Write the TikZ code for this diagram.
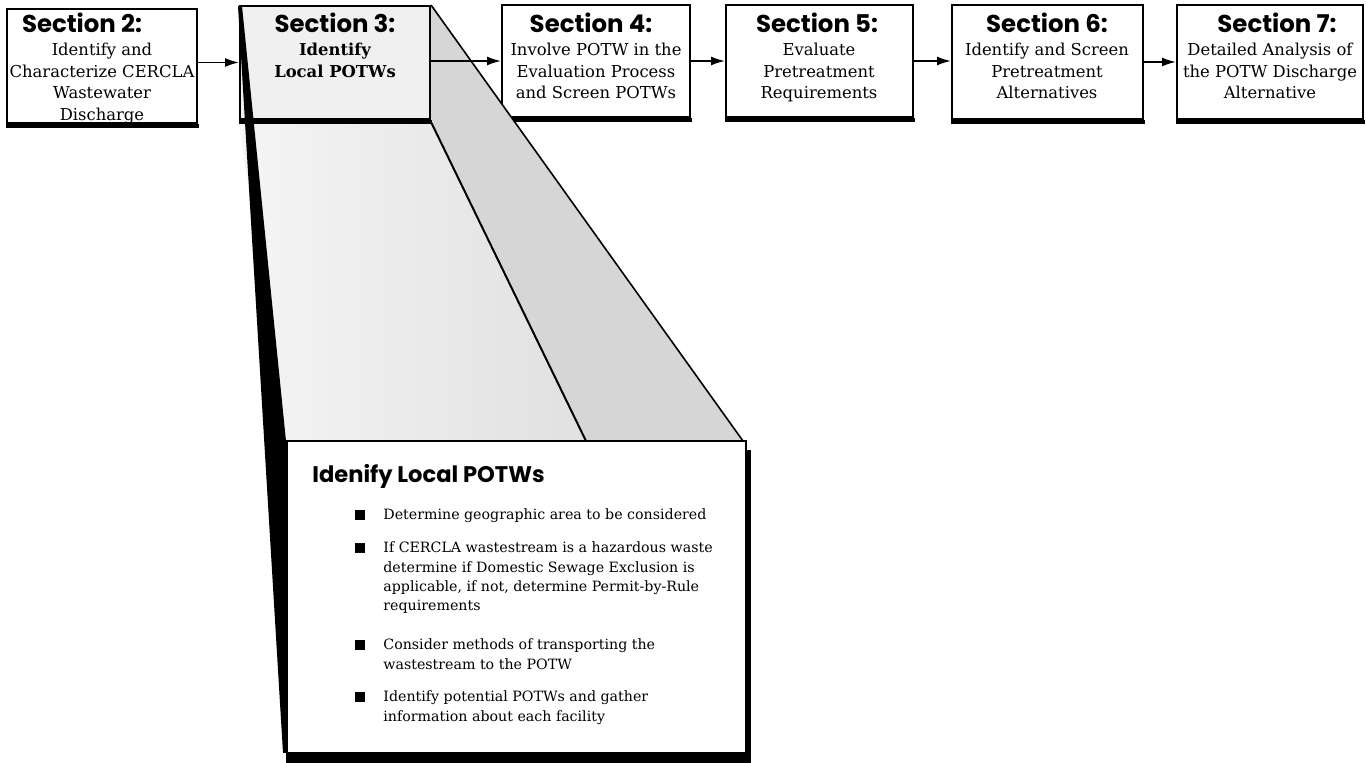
\documentclass[tikz,border=0pt]{standalone}
\usepackage{fontspec}
\setmainfont{DejaVu Serif}
\newfontfamily\headfont{Poppins}
\usetikzlibrary{arrows.meta}

\tikzset{
  stagebox/.style={draw, line width=1pt, fill=white, inner sep=0pt},
  stagetitle/.style={font=\headfont\bfseries\fontsize{12.2}{14}\selectfont, inner sep=0pt, anchor=base},
  stagetext/.style={font=\fontsize{8.2}{10.75}\selectfont, inner sep=0pt, anchor=base},
  flow/.style={-{Latex[length=7pt,width=4.5pt]}, line width=0.8pt},
  detailhead/.style={font=\headfont\bfseries\fontsize{11.3}{13}\selectfont, inner sep=0pt, anchor=base west},
  detailtext/.style={font=\fontsize{7.1}{9.6}\selectfont, inner sep=0pt, anchor=base west},
  bulletsq/.style={fill=black, minimum size=5pt, inner sep=0pt},
  edge/.style={line width=0.8pt}
}

\newcommand{\lines}[2]{\parbox[t]{#1}{\centering #2}}
\newcommand{\itemlines}[1]{\parbox[t]{200pt}{\raggedright #1}}

\begin{document}
\begin{tikzpicture}[x=0.5pt,y=-0.5pt]
\useasboundingbox (0,0) rectangle (1366,763);

% ---- stage boxes along the top ----
\node[stagebox, minimum width=95pt,   minimum height=57pt]   (s2) at (102,66)    {};
\node[stagebox, fill=gray!12, minimum width=95pt, minimum height=56.5pt] (s3) at (335,62.5) {};
\node[stagebox, minimum width=94pt,   minimum height=56pt]   (s4) at (596,61)    {};
\node[stagebox, minimum width=93.5pt, minimum height=56pt]   (s5) at (819.5,61)  {};
\node[stagebox, minimum width=95.5pt, minimum height=57pt]   (s6) at (1047.5,62) {};
\node[stagebox, minimum width=93pt,   minimum height=57pt]   (s7) at (1270,62)   {};

% thick lower edges of the boxes
\foreach \n in {s2,s4,s5,s6,s7}
  \fill (\n.south west) rectangle ([xshift=0.5pt,yshift=-2pt]\n.south east);

% ---- expanded view of Section 3 ----
% right side face
\fill[gray!32] (s3.north east) -- (743,441) -- (586,441) -- (s3.south east) -- cycle;
% front face under the box
\shade[left color=gray!8, middle color=gray!34, right color=gray!24]
  ([yshift=-2pt]s3.south west) -- ([yshift=-2pt]s3.south east) -- (586,441) -- (286,441) -- cycle;
% redraw the box on top of the faces
\node[stagebox, fill=gray!12, minimum width=95pt, minimum height=56.5pt] at (s3) {};
\fill (s3.south west) rectangle ([xshift=0.5pt,yshift=-2pt]s3.south east);
% edges of the projection
\draw[edge] (s3.north east) -- (743,441);
\draw[line width=1pt] ([yshift=-1pt]s3.south east) -- (586,441);

% detail box
\node[stagebox, line width=1pt, minimum width=229.5pt, minimum height=156pt] (detail) at (516.5,597) {};
\fill (detail.south west) rectangle ([xshift=2pt,yshift=-6pt]detail.south east);
\fill ([yshift=-5pt]detail.north east) rectangle ([xshift=2pt]detail.south east);

% dark left side of the projection
\fill (238,6) -- (242,6) -- (286,441) -- (288,753) -- (283,753) -- cycle;

% ---- connectors ----
\draw[flow] (s3.west -| s2.east) -- (s3.west);
\draw[flow] (s4.west -| s3.east) -- (s4.west);
\draw[flow] (s4.east) -- (s5.west);
\draw[flow] (s5.east) -- (s5.east -| s6.west);
\draw[flow] (s6.east) -- (s7.west);

% ---- stage texts ----
\node[stagetitle] (s2t) at (82,33)   {Section 2:};
\node[stagetitle] (s3t) at (335,33)  {Section 3:};
\node[stagetitle] (s4t) at (591,33)  {Section 4:};
\node[stagetitle] (s5t) at (817,33)  {Section 5:};
\node[stagetitle] (s6t) at (1047,33) {Section 6:};
\node[stagetitle] (s7t) at (1277,33) {Section 7:};

\node[stagetext] (s2b) at (102,56)  {\lines{120pt}{Identify and\\Characterize CERCLA\\Wastewater\\Discharge}};
\node[stagetext] (s3b) at (335,56)  {\lines{120pt}{\bfseries Identify\\Local POTWs}};
\node[stagetext] (s4b) at (596,56)  {\lines{120pt}{Involve POTW in the\\Evaluation Process\\and Screen POTWs}};
\node[stagetext] (s5b) at (819,56)  {\lines{120pt}{Evaluate\\Pretreatment\\Requirements}};
\node[stagetext] (s6b) at (1047,56) {\lines{120pt}{Identify and Screen\\Pretreatment\\Alternatives}};
\node[stagetext] (s7b) at (1270,56) {\lines{120pt}{Detailed Analysis of\\the POTW Discharge\\Alternative}};

% ---- detail box contents ----
\node[detailhead] (dh) at (312,483) {Idenify Local POTWs};

\node[bulletsq] (b1) at (360,515) {};
\node[bulletsq] (b2) at (360,548) {};
\node[bulletsq] (b3) at (360,645) {};
\node[bulletsq] (b4) at (360,697) {};

\node[detailtext] (t1) at (383,520) {\itemlines{Determine geographic area to be considered}};
\node[detailtext] (t2) at (383,553) {\itemlines{If CERCLA wastestream is a hazardous waste\\determine if Domestic Sewage Exclusion is\\applicable, if not, determine Permit-by-Rule\\requirements}};
\node[detailtext] (t3) at (383,650) {\itemlines{Consider methods of transporting the\\wastestream to the POTW}};
\node[detailtext] (t4) at (383,702) {\itemlines{Identify potential POTWs and gather\\information about each facility}};
\end{tikzpicture}
\end{document}
